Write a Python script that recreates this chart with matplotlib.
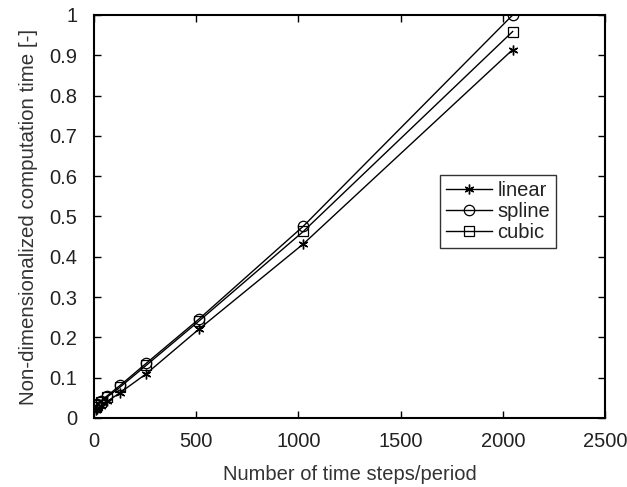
import matplotlib
matplotlib.use("Agg")
import matplotlib.pyplot as plt

steps = [8, 16, 32, 64, 128, 256, 512, 1024, 2048]
linear = [0.020, 0.023, 0.029, 0.041, 0.063, 0.110, 0.220, 0.432, 0.914]
spline = [0.031, 0.035, 0.042, 0.055, 0.081, 0.136, 0.245, 0.476, 1.000]
cubic = [0.028, 0.032, 0.039, 0.052, 0.077, 0.131, 0.240, 0.463, 0.959]

xticks = [0, 500, 1000, 1500, 2000, 2500]
yticks = [0, 0.1, 0.2, 0.3, 0.4, 0.5, 0.6, 0.7, 0.8, 0.9, 1]
ytick_labels = ["0", "0.1", "0.2", "0.3", "0.4", "0.5", "0.6", "0.7", "0.8", "0.9", "1"]

plt.rcParams['font.family'] = ['Liberation Sans', 'DejaVu Sans']

fig = plt.figure(figsize=(6.27, 4.87), dpi=100)
ax = fig.add_axes([0.15, 0.1417, 0.815, 0.8275])

kw = dict(color='black', linewidth=1.0, markerfacecolor='none', markeredgecolor='black')
ax.plot(steps, linear, marker=(6, 2, 0), markersize=7, label='linear', **kw)
ax.plot(steps, spline, marker='o', markersize=7.5, markeredgewidth=0.9, label='spline', **kw)
ax.plot(steps, cubic, marker='s', markersize=6.5, markeredgewidth=0.9, label='cubic', **kw)

ax.set_xlim(0, 2500)
ax.set_ylim(0, 1)
ax.set_xticks(xticks)
ax.set_yticks(yticks)
ax.set_yticklabels(ytick_labels)
ax.tick_params(direction='in', top=True, right=True, length=5, width=1,
               labelsize=14.5, colors='black')
ax.tick_params(axis='x', pad=10)
ax.tick_params(axis='y', pad=12)
for s in ax.spines.values():
    s.set_linewidth(1.5)

ax.set_xlabel('Number of time steps/period', fontsize=14.5, color='#333333', labelpad=10)
ax.set_ylabel('Non-dimensionalized computation time [-]', fontsize=14.8, color='#333333', labelpad=8)
for lab in ax.get_xticklabels() + ax.get_yticklabels():
    lab.set_color('#222222')

leg = ax.legend(loc='upper left', bbox_to_anchor=(0.677, 0.603), fontsize=14.5,
                frameon=True, fancybox=False, edgecolor='black', handlelength=2.3,
                handletextpad=0.25, borderpad=0.3, labelspacing=0.1, borderaxespad=0)
leg.get_frame().set_linewidth(1.0)
for t in leg.get_texts():
    t.set_color('#222222')

fig.savefig('out.png', dpi=100)
